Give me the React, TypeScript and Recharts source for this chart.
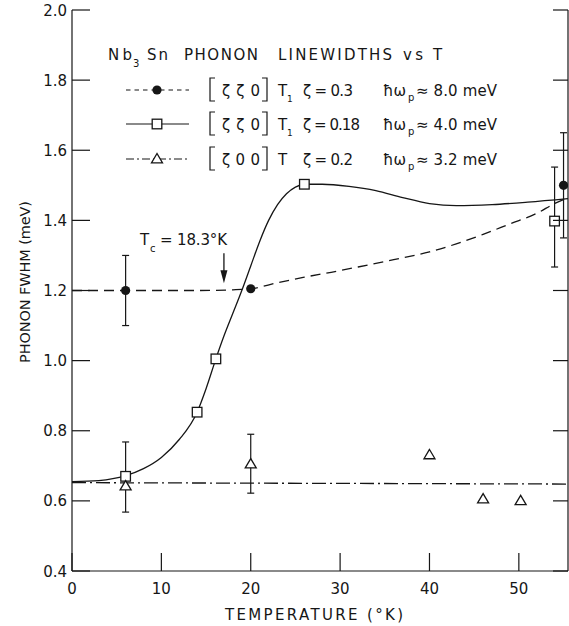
import React from 'react';
import { ComposedChart, Line, Scatter, XAxis, YAxis, ErrorBar } from 'recharts';

const FONT = '"DejaVu Sans", sans-serif';
const INK = '#161616';

const xTicks = [0, 10, 20, 30, 40, 50];
const yTicks = [0.4, 0.6, 0.8, 1.0, 1.2, 1.4, 1.6, 1.8, 2.0];

// [ζζ0] T1 ζ=0.3, filled circles on the dashed curve
const circles = [
  { x: 6, y: 1.2, err: [0.1, 0.1] },
  { x: 20, y: 1.205 },
  { x: 55, y: 1.5, err: [0.15, 0.15] },
];
const dashedCurve = [
  { x: 0, y: 1.2 }, { x: 8, y: 1.2 }, { x: 14, y: 1.2 }, { x: 18, y: 1.202 },
  { x: 20, y: 1.205 }, { x: 23, y: 1.222 }, { x: 26, y: 1.238 }, { x: 29, y: 1.252 },
  { x: 32, y: 1.267 }, { x: 36, y: 1.288 }, { x: 40, y: 1.31 }, { x: 43, y: 1.333 },
  { x: 46, y: 1.36 }, { x: 49, y: 1.39 }, { x: 52, y: 1.42 }, { x: 54, y: 1.448 },
  { x: 55.5, y: 1.465 },
];

// [ζζ0] T1 ζ=0.18, open squares on the solid curve
const squares = [
  { x: 6, y: 0.67 },
  { x: 14, y: 0.853 },
  { x: 16.1, y: 1.005 },
  { x: 26, y: 1.503 },
  { x: 54, y: 1.398, err: [0.131, 0.154] },
];
const solidCurve = [
  { x: 0, y: 0.655 }, { x: 3, y: 0.658 }, { x: 6, y: 0.672 }, { x: 8, y: 0.692 },
  { x: 10, y: 0.724 }, { x: 12, y: 0.775 }, { x: 14, y: 0.853 }, { x: 15, y: 0.92 },
  { x: 16.1, y: 1.005 }, { x: 17, y: 1.07 }, { x: 18, y: 1.135 }, { x: 19, y: 1.2 },
  { x: 20, y: 1.27 }, { x: 21, y: 1.34 }, { x: 22, y: 1.4 }, { x: 23, y: 1.445 },
  { x: 24, y: 1.476 }, { x: 25, y: 1.495 }, { x: 26, y: 1.503 }, { x: 28, y: 1.503 },
  { x: 31, y: 1.497 }, { x: 34, y: 1.485 }, { x: 37, y: 1.465 }, { x: 40, y: 1.448 },
  { x: 43, y: 1.442 }, { x: 47, y: 1.445 }, { x: 51, y: 1.452 }, { x: 55.5, y: 1.462 },
];

// [ζ00] T ζ=0.2, open triangles, dash-dot level
const triangles = [
  { x: 6, y: 0.642, err: [0.074, 0.126] },
  { x: 20, y: 0.705, err: [0.083, 0.085] },
  { x: 40, y: 0.731 },
  { x: 46, y: 0.605 },
  { x: 50.2, y: 0.6 },
];
const dashDotLine = [{ x: 0, y: 0.652 }, { x: 55.5, y: 0.648 }];

// Tc arrow tip
const tcArrow = [{ x: 17, y: 1.221 }];

const Dot = ({ cx, cy }: any) => <circle cx={cx} cy={cy} r={4.6} fill={INK} />;
const Square = ({ cx, cy }: any) => (
  <rect x={cx - 4.8} y={cy - 4.8} width={9.6} height={9.6} fill="#fff" stroke={INK} strokeWidth={1.3} />
);
const Triangle = ({ cx, cy }: any) => (
  <polygon points={`${cx},${cy - 5.5} ${cx - 5.5},${cy + 3.8} ${cx + 5.5},${cy + 3.8}`} fill="#fff" stroke={INK} strokeWidth={1.3} />
);
const Empty = () => <g />;
const Arrow = ({ cx, cy }: any) => (
  <g>
    <line x1={cx} x2={cx} y1={cy - 30} y2={cy - 10} stroke={INK} strokeWidth={1.3} />
    <polygon points={`${cx - 3.5},${cy - 13} ${cx + 3.5},${cy - 13} ${cx},${cy}`} fill={INK} />
  </g>
);

const txt = { fontFamily: FONT, fill: INK } as const;

const LeftTick = ({ x, y, payload }: any) => (
  <g>
    <line x1={x} x2={x + 18} y1={y} y2={y} stroke={INK} strokeWidth={1.2} />
    <text x={x - 5} y={y + 5.5} textAnchor="end" fontSize={15} {...txt}>{Number(payload.value).toFixed(1)}</text>
  </g>
);
const RightTick = ({ x, y }: any) => (
  <line x1={x} x2={x - 15} y1={y} y2={y} stroke={INK} strokeWidth={1.2} />
);
const BottomTick = ({ x, y, payload }: any) => (
  <g>
    <line x1={x} x2={x} y1={y} y2={y - 18} stroke={INK} strokeWidth={1.2} />
    <text x={x} y={y + 22.5} textAnchor="middle" fontSize={15} {...txt}>{payload.value}</text>
  </g>
);
const TopTick = ({ x, y }: any) => (
  <line x1={x} x2={x} y1={y} y2={y + 18} stroke={INK} strokeWidth={1.2} />
);

const Bracket = ({ x, b, right }: { x: number; b: number; right?: boolean }) => {
  const d = right
    ? `M${x - 5},${b - 18} H${x} V${b + 5} H${x - 5}`
    : `M${x + 5},${b - 18} H${x} V${b + 5} H${x + 5}`;
  return <path d={d} fill="none" stroke={INK} strokeWidth={1.2} />;
};

const LegendRow = ({ b, dash, marker, vec, sub, zeta, zetaLen, energy }: any) => {
  const cy = b - 6;
  return (
    <g>
      <line x1={126} x2={189} y1={cy} y2={cy} stroke={INK} strokeWidth={1.2} strokeDasharray={dash} />
      {marker === 'dot' && <Dot cx={157} cy={cy} />}
      {marker === 'square' && <Square cx={157} cy={cy} />}
      {marker === 'triangle' && <Triangle cx={157} cy={cy} />}
      <Bracket x={210} b={b} />
      <text x={222} y={b} fontSize={15} textLength={38} lengthAdjust="spacing" {...txt}>{vec}</text>
      <Bracket x={267} b={b} right />
      <text x={278} y={b} fontSize={15} {...txt}>T</text>
      {sub && <text x={287} y={b + 6} fontSize={9} {...txt}>1</text>}
      <text x={303} y={b} fontSize={15} textLength={zetaLen} lengthAdjust="spacing" {...txt}>{zeta}</text>
      <text x={383} y={b} fontSize={15} {...txt}>ħω</text>
      <text x={408} y={b + 5} fontSize={10} {...txt}>p</text>
      <text x={416} y={b} fontSize={15} textLength={81} lengthAdjust="spacing" {...txt}>{energy}</text>
    </g>
  );
};

const Overlay = () => (
  <svg width={569} height={626} style={{ position: 'absolute', left: 0, top: 0, pointerEvents: 'none' }}>
    <text x={108} y={60} fontSize={15} textLength={24} lengthAdjust="spacing" {...txt}>Nb</text>
    <text x={133} y={67} fontSize={10} {...txt}>3</text>
    <text x={147} y={60} fontSize={15} textLength={21} lengthAdjust="spacing" {...txt}>Sn</text>
    <text x={184} y={60} fontSize={15} textLength={74} lengthAdjust="spacing" {...txt}>PHONON</text>
    <text x={278} y={60} fontSize={15} textLength={114} lengthAdjust="spacing" {...txt}>LINEWIDTHS</text>
    <text x={403} y={60} fontSize={15} textLength={20} lengthAdjust="spacing" {...txt}>vs</text>
    <text x={433} y={60} fontSize={15} {...txt}>T</text>

    <LegendRow b={96} dash="4.5 4" marker="dot" vec="ζζ0" sub zeta="ζ = 0.3" zetaLen={50} energy="≈ 8.0 meV" />
    <LegendRow b={130} marker="square" vec="ζζ0" sub zeta="ζ = 0.18" zetaLen={57} energy="≈ 4.0 meV" />
    <LegendRow b={165} dash="8 3 2 3" marker="triangle" vec="ζ00" zeta="ζ = 0.2" zetaLen={50} energy="≈ 3.2 meV" />

    <text x={140} y={245} fontSize={15} {...txt}>T</text>
    <text x={150} y={252} fontSize={10} {...txt}>c</text>
    <text x={160} y={245} fontSize={15} textLength={67} lengthAdjust="spacing" {...txt}>= 18.3°K</text>

    <text x={314} y={620} fontSize={15} textAnchor="middle" textLength={178} lengthAdjust="spacing" {...txt}>TEMPERATURE (°K)</text>
    <text x={0} y={0} fontSize={14.5} textAnchor="middle" textLength={162} lengthAdjust="spacing"
      transform="translate(30,282) rotate(-90)" {...txt}>PHONON FWHM (meV)</text>
  </svg>
);

export default function App() {
  return (
    <div style={{ position: 'relative', width: 569, height: 626, background: '#fff' }}>
      <style>{'body{margin:0;background:#fff}'}</style>
      <ComposedChart width={569} height={626} margin={{ top: 10, right: 0, bottom: 0, left: 0 }}>
        <XAxis dataKey="x" type="number" domain={[0, 55.5]} allowDataOverflow ticks={xTicks}
          height={55} tickSize={0} tickMargin={0} tickLine={false}
          axisLine={{ stroke: INK, strokeWidth: 1.2 }} tick={BottomTick} />
        <XAxis xAxisId="top" orientation="top" dataKey="x" type="number" domain={[0, 55.5]} allowDataOverflow
          ticks={xTicks} height={0} tickSize={0} tickMargin={0} tickLine={false}
          axisLine={{ stroke: INK, strokeWidth: 1.2 }} tick={TopTick} />
        <YAxis dataKey="y" type="number" domain={[0.4, 2.0]} allowDataOverflow ticks={yTicks}
          width={72} tickSize={0} tickMargin={0} tickLine={false}
          axisLine={{ stroke: INK, strokeWidth: 1.2 }} tick={LeftTick} />
        <YAxis yAxisId="right" orientation="right" dataKey="y" type="number" domain={[0.4, 2.0]} allowDataOverflow
          ticks={yTicks} width={1} tickSize={0} tickMargin={0} tickLine={false}
          axisLine={{ stroke: INK, strokeWidth: 1.2 }} tick={RightTick} />

        <Line data={dashDotLine} dataKey="y" type="linear" stroke={INK} strokeWidth={1.3}
          strokeDasharray="14 4 2 4" dot={false} activeDot={false} isAnimationActive={false} />
        <Line data={dashedCurve} dataKey="y" type="monotone" stroke={INK} strokeWidth={1.3}
          strokeDasharray="10 6" dot={false} activeDot={false} isAnimationActive={false} />
        <Line data={solidCurve} dataKey="y" type="monotone" stroke={INK} strokeWidth={1.3}
          dot={false} activeDot={false} isAnimationActive={false} />

        <Scatter data={circles.filter((d) => d.err)} dataKey="y" shape={Empty} isAnimationActive={false}>
          <ErrorBar dataKey="err" direction="y" width={3.5} stroke={INK} strokeWidth={1.2} isAnimationActive={false} />
        </Scatter>
        <Scatter data={squares.filter((d) => d.err)} dataKey="y" shape={Empty} isAnimationActive={false}>
          <ErrorBar dataKey="err" direction="y" width={3.5} stroke={INK} strokeWidth={1.2} isAnimationActive={false} />
        </Scatter>
        <Scatter data={triangles.filter((d) => d.err)} dataKey="y" shape={Empty} isAnimationActive={false}>
          <ErrorBar dataKey="err" direction="y" width={3.5} stroke={INK} strokeWidth={1.2} isAnimationActive={false} />
        </Scatter>

        <Scatter data={circles} dataKey="y" shape={Dot} isAnimationActive={false} />
        <Scatter data={squares} dataKey="y" shape={Square} isAnimationActive={false} />
        <Scatter data={triangles} dataKey="y" shape={Triangle} isAnimationActive={false} />
        <Scatter data={tcArrow} xAxisId="top" yAxisId="right" dataKey="y" shape={Arrow} isAnimationActive={false} />
      </ComposedChart>
      <Overlay />
    </div>
  );
}
